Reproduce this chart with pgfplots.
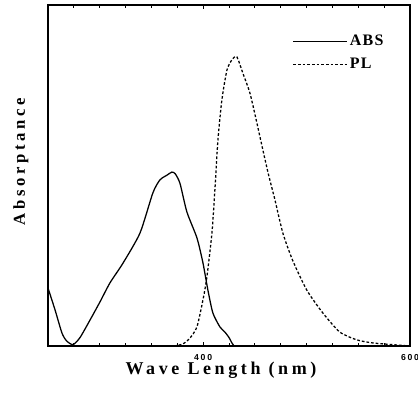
\documentclass[border=0pt]{standalone}
\usepackage{fontspec}
\setmainfont{Liberation Serif}
\newfontfamily\tickfont[LetterSpace=20]{Liberation Sans}
\usepackage{pgfplots}
\pgfplotsset{compat=1.18}
\begin{document}
\begin{tikzpicture}
\begin{axis}[
  scale only axis,
  width=271.5pt, height=255.75pt,
  xmin=250, xmax=600, ymin=0, ymax=1,
  axis line style={line width=1.1pt},
  xtick={400,600},
  minor xtick={275,300,325,350,375,425,450,475,500,525,550,575},
  ytick=\empty,
  minor ytick={0.2,0.4,0.6,0.8},
  tick style={line width=0.6pt, black},
  major tick length=3pt, minor tick length=2pt,
  tick align=inside,
  xticklabel style={font=\tickfont\bfseries\fontsize{6.5}{7}\selectfont, yshift=-3pt},
  /pgf/number format/assume math mode=true,
  xlabel={\addfontfeature{LetterSpace=20}\bfseries\fontsize{13.5}{15}\selectfont Wave Length (nm)},
  xlabel style={at={(axis description cs:0.478,0)}, anchor=center, yshift=-18.5pt},
  ylabel={\addfontfeature{LetterSpace=22}\bfseries\fontsize{12.5}{14}\selectfont Absorptance},
  ylabel style={at={(axis description cs:-0.075,0.54)}, anchor=center},
  legend style={draw=none, fill=none, at={(axis cs:486.5,0.92)}, anchor=north west,
    font=\addfontfeature{LetterSpace=8}\bfseries\fontsize{12}{13}\selectfont,
    row sep=4pt, inner sep=0pt, outer sep=0pt},
  legend cell align=left,
  legend image code/.code={\draw[#1] (0pt,0pt) -- (40pt,0pt);},
]
\addplot[black, line width=0.95pt, smooth, tension=0.4] coordinates {
(250,0.170) (256.8,0.106) (263.5,0.038) (268,0.015) (274.2,0.004) (281,0.025)
(290.6,0.076) (300.2,0.129) (309.9,0.185) (322.5,0.243) (338.9,0.331)
(351.4,0.449) (358.2,0.487) (365,0.501) (369.8,0.510) (373,0.505) (377.6,0.477)
(384.3,0.393) (394,0.317) (399.8,0.244) (404.6,0.164) (409.4,0.097)
(416.2,0.056) (421,0.041) (425,0.025) (427.8,0.009) (430,0.0)
};
\addlegendentry{ABS}
\addplot[black, line width=0.95pt, dash pattern=on 2pt off 1.5pt, smooth, tension=0.4] coordinates {
(372,0.0) (380.4,0.006) (387.2,0.023) (394,0.056) (399.8,0.135) (403.6,0.202)
(408.5,0.331) (411.4,0.46) (414.3,0.604) (418.1,0.721) (423,0.809)
(428,0.840) (432.6,0.848) (438.4,0.800) (445.2,0.742) (451.9,0.655)
(457,0.585) (463,0.505) (469.3,0.430) (477.1,0.331) (486.7,0.250) (500.2,0.164)
(515.7,0.097) (532.1,0.041) (548.6,0.018) (564,0.009) (587.2,0.003) (600,0.0)
};
\addlegendentry{PL}
\end{axis}
\pgfresetboundingbox
\path (-36pt,-35.25pt) rectangle (277.5pt,259.5pt);
\end{tikzpicture}
\end{document}
